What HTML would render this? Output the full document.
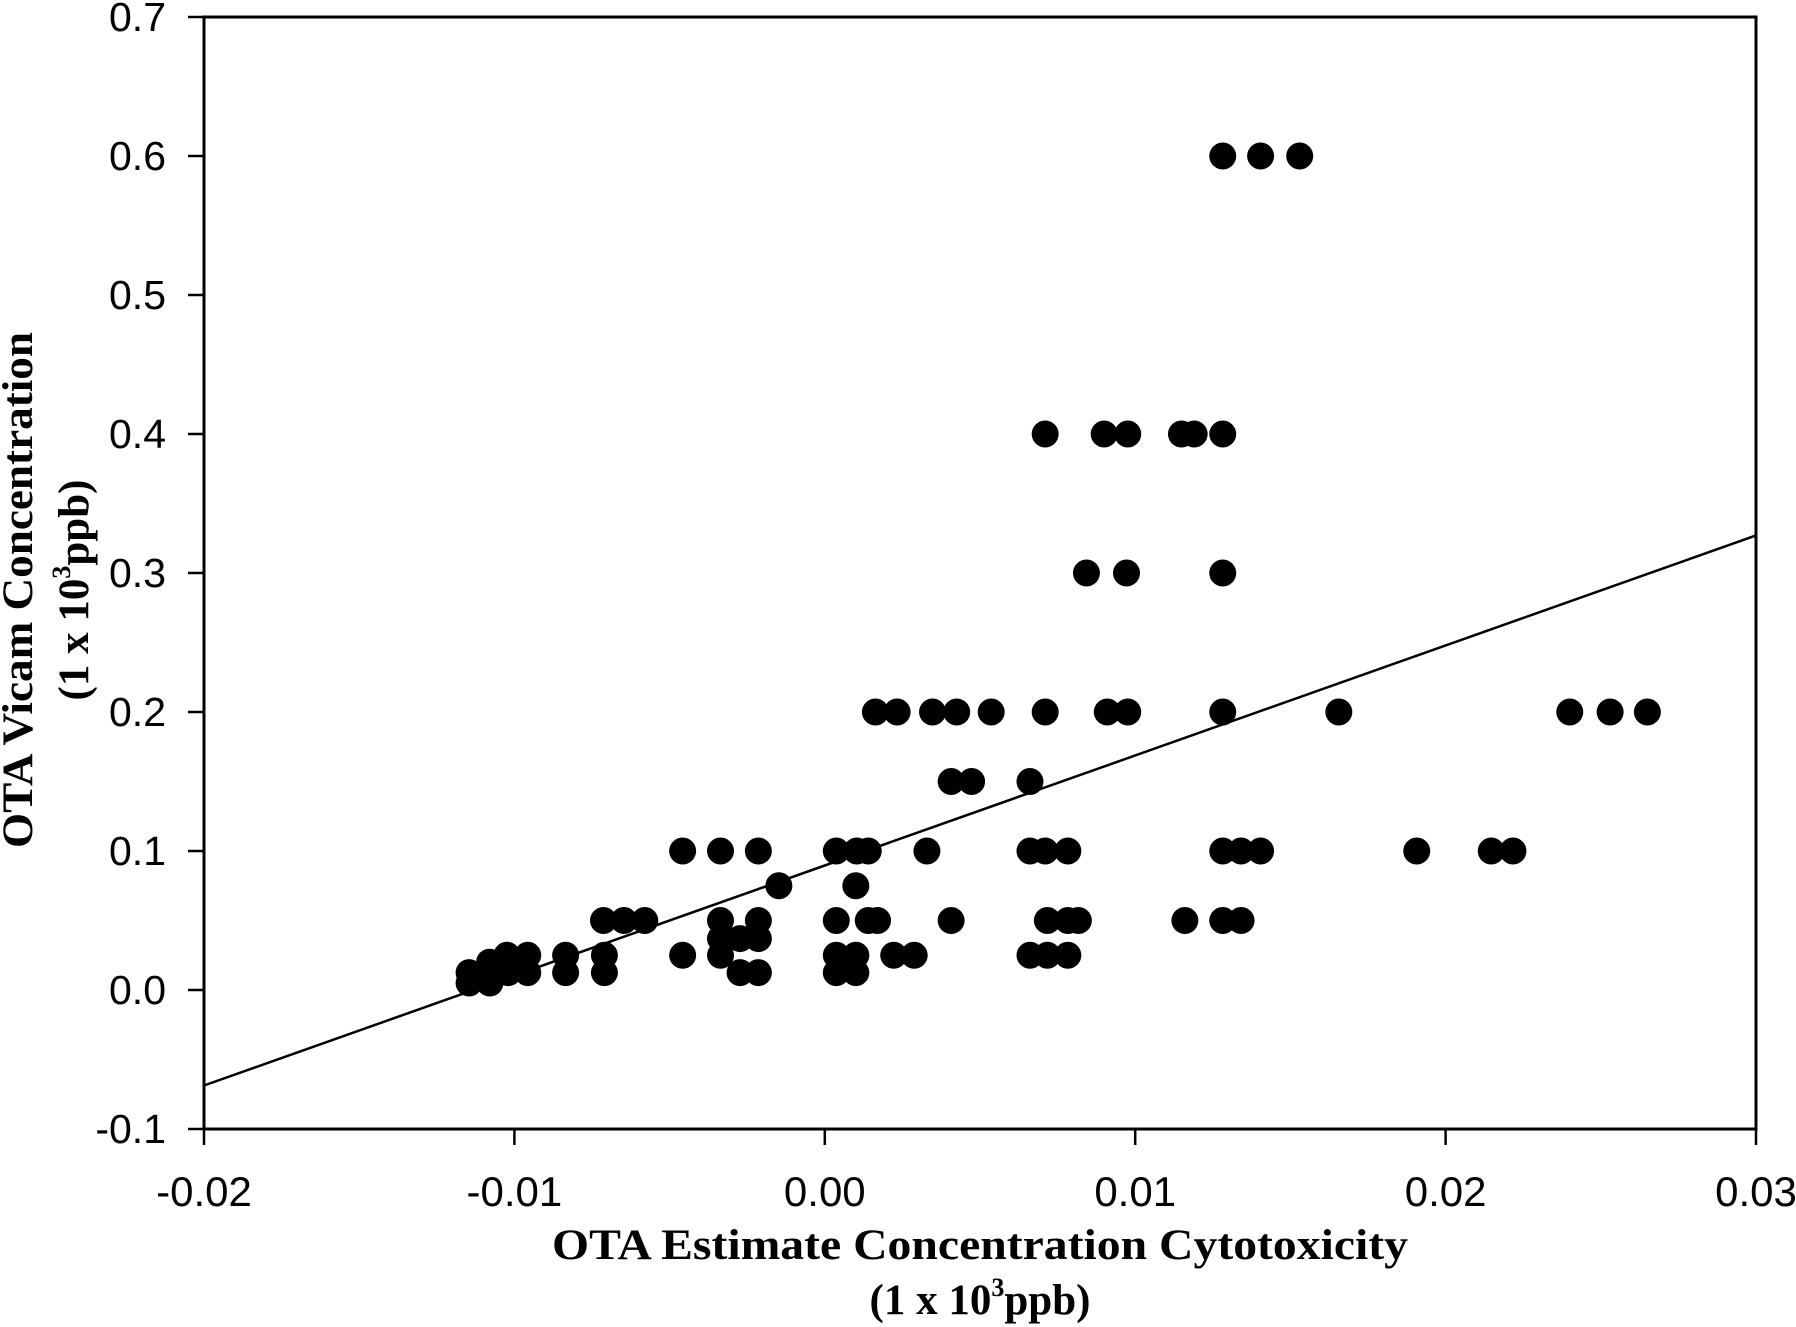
<!DOCTYPE html>
<html><head><meta charset="utf-8"><style>html,body{margin:0;padding:0;background:#fff}svg{display:block}</style></head>
<body>
<svg id="chart" width="1796" height="1327" viewBox="0 0 1796 1327" xmlns="http://www.w3.org/2000/svg"></svg>
<script>
const xTicks = [-0.02, -0.01, 0.00, 0.01, 0.02, 0.03];
const xTickLabels = ["-0.02", "-0.01", "0.00", "0.01", "0.02", "0.03"];
const yTicks = [-0.1, 0.0, 0.1, 0.2, 0.3, 0.4, 0.5, 0.6, 0.7];
const yTickLabels = ["-0.1", "0.0", "0.1", "0.2", "0.3", "0.4", "0.5", "0.6", "0.7"];
const ptsX = [
 0.01282,0.01404,0.01530,
 0.0071,0.0090,0.00976,0.01149,0.0119,0.01282,
 0.00843,0.00972,0.01282,
 0.00163,0.00233,0.00347,0.00425,0.00536,0.0071,0.0091,0.00976,0.01282,0.01656,0.0240,0.0253,0.0265,
 0.00407,0.00473,0.00661,
 -0.00458,-0.00336,-0.00214,0.00037,0.00103,0.0014,0.00329,0.00661,0.0071,0.00783,0.01282,0.01341,0.01404,0.01907,0.02147,0.02217,
 -0.00148,0.001,
 -0.00713,-0.00647,-0.0058,-0.00336,-0.00214,0.00037,0.0014,0.0017,0.00407,0.00717,0.00783,0.00817,0.0116,0.01282,0.01341,
 -0.00336,-0.00273,-0.00214,
 -0.01024,-0.00957,-0.00835,-0.0071,-0.00458,-0.00336,0.00037,0.001,0.00222,0.00288,0.00661,0.00717,0.00783,
 -0.01146,-0.01079,-0.0102,-0.00957,-0.00835,-0.0071,-0.00273,-0.00214,0.00037,0.001,
 -0.01146,-0.01079,-0.0108,-0.0102
];
const ptsY = [
 0.6,0.6,0.6,
 0.4,0.4,0.4,0.4,0.4,0.4,
 0.3,0.3,0.3,
 0.2,0.2,0.2,0.2,0.2,0.2,0.2,0.2,0.2,0.2,0.2,0.2,0.2,
 0.15,0.15,0.15,
 0.1,0.1,0.1,0.1,0.1,0.1,0.1,0.1,0.1,0.1,0.1,0.1,0.1,0.1,0.1,0.1,
 0.075,0.075,
 0.05,0.05,0.05,0.05,0.05,0.05,0.05,0.05,0.05,0.05,0.05,0.05,0.05,0.05,0.05,
 0.037,0.037,0.037,
 0.025,0.025,0.025,0.025,0.025,0.025,0.025,0.025,0.025,0.025,0.025,0.025,0.025,
 0.0125,0.0125,0.0125,0.0125,0.0125,0.0125,0.0125,0.0125,0.0125,0.0125,
 0.005,0.005,0.02,0.02
];
const fitX = [-0.02, 0.03];
const fitY = [-0.0687, 0.327];

const NS = "http://www.w3.org/2000/svg";
const svg = document.getElementById('chart');
const L = 204, R = 1756, T = 17, B = 1129;
const xMin = -0.02, xMax = 0.03, yMin = -0.1, yMax = 0.7;
function sx(v){ return L + (v - xMin) / (xMax - xMin) * (R - L); }
function sy(v){ return B - (v - yMin) / (yMax - yMin) * (B - T); }
function mk(tag, attrs){ const e = document.createElementNS(NS, tag); for (const k in attrs) e.setAttribute(k, attrs[k]); svg.appendChild(e); return e; }

for (let i = 0; i < ptsX.length; i++) {
  const c = mk('circle', {cx: sx(ptsX[i]), cy: sy(ptsY[i]), r: 13.5, fill: '#000'});
  
  
}
const ln = mk('line', {x1: sx(fitX[0]), y1: sy(fitY[0]), x2: sx(fitX[1]), y2: sy(fitY[1]), stroke: '#000', 'stroke-width': 2.5});


const fr = mk('rect', {x: L, y: T, width: R - L, height: B - T, fill: 'none', stroke: '#000', 'stroke-width': 3});


for (let i = 0; i < xTicks.length; i++) {
  const x = sx(xTicks[i]);
  const t = mk('line', {x1: x, y1: B, x2: x, y2: B + 16, stroke: '#000', 'stroke-width': 2.5});
  
  
  const lb = mk('text', {x: x, y: 1206, 'text-anchor': 'middle', 'font-family': 'Liberation Sans, sans-serif', 'font-size': 42});
  lb.textContent = xTickLabels[i];
  
  
}
for (let i = 0; i < yTicks.length; i++) {
  const y = sy(yTicks[i]);
  const t = mk('line', {x1: L - 16, y1: y, x2: L, y2: y, stroke: '#000', 'stroke-width': 2.5});
  
  
  const lb = mk('text', {x: 166, y: y + 14, 'text-anchor': 'end', 'font-family': 'Liberation Sans, sans-serif', 'font-size': 41});
  lb.textContent = yTickLabels[i];
  
  
}
</script>
<svg style="position:absolute;left:0;top:0" width="1796" height="1327">
  <g font-family="Liberation Serif, serif" font-weight="bold" font-size="43" text-anchor="middle">
    <text x="980" y="1259" textLength="856" lengthAdjust="spacingAndGlyphs">OTA Estimate Concentration Cytotoxicity</text>
    <text x="980" y="1314">(1 x 10<tspan font-size="26" dy="-18">3</tspan><tspan dy="18">ppb)</tspan></text>
    <g transform="translate(32,590) rotate(-90)">
      <text x="0" y="0" textLength="516" lengthAdjust="spacingAndGlyphs">OTA Vicam Concentration</text>
      <text x="0" y="56">(1 x 10<tspan font-size="26" dy="-18">3</tspan><tspan dy="18">ppb)</tspan></text>
    </g>
  </g>
</svg>
</body></html>
